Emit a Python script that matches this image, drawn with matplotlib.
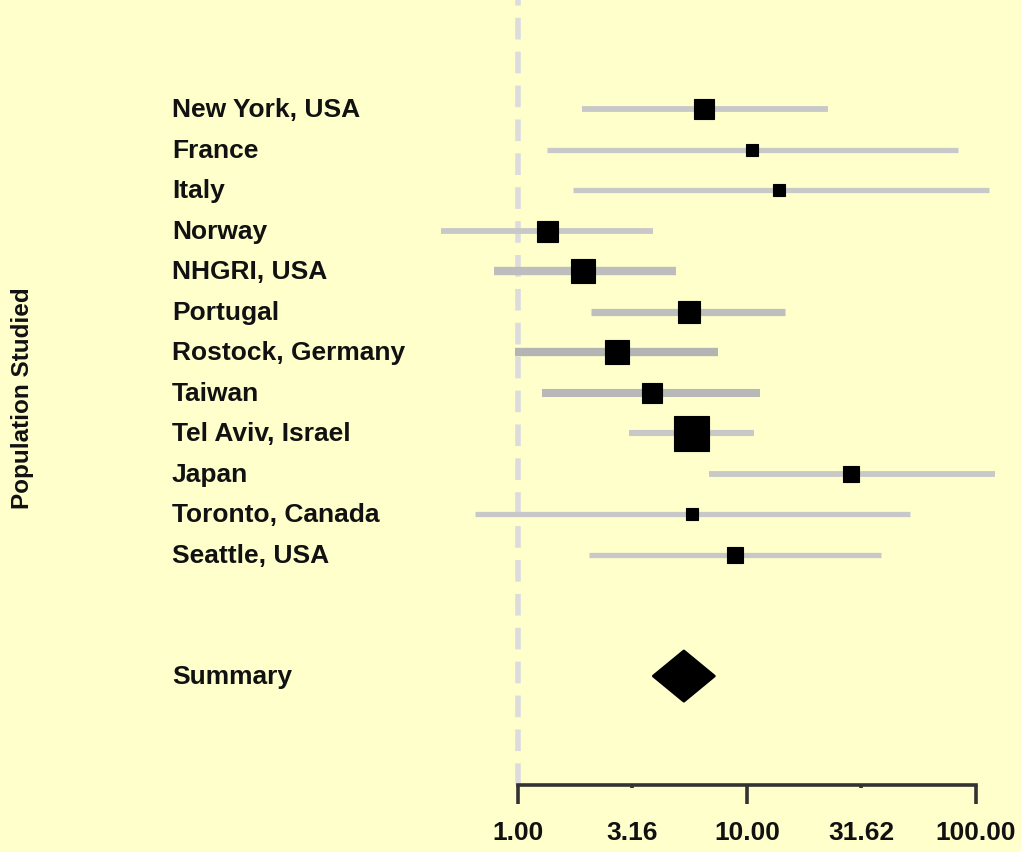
import numpy as np
import matplotlib
matplotlib.use('Agg')
import matplotlib.pyplot as plt
from matplotlib.transforms import blended_transform_factory
from matplotlib.ticker import FixedLocator, FixedFormatter

plt.rcParams['font.family'] = ['Liberation Sans', 'DejaVu Sans']
plt.rcParams['font.weight'] = 'bold'

# odds ratios with 95% CI per study population
studies = ['New York, USA', 'France', 'Italy', 'Norway', 'NHGRI, USA', 'Portugal',
           'Rostock, Germany', 'Taiwan', 'Tel Aviv, Israel', 'Japan',
           'Toronto, Canada', 'Seattle, USA']
odds = [6.5, 10.5, 13.8, 1.34, 1.92, 5.6, 2.7, 3.85, 5.7, 28.5, 5.75, 8.9]
ci_low = [1.90, 1.34, 1.74, 0.46, 0.785, 2.08, 0.97, 1.27, 3.05, 6.8, 0.65, 2.04]
ci_high = [22.6, 83.5, 114.0, 3.9, 4.9, 14.7, 7.5, 11.4, 10.7, 121.0, 51.5, 38.5]
weight = [29.5, 11.8, 11.8, 36.0, 47.0, 39.5, 47.0, 32.7, 100.0, 20.9, 9.9, 20.9]

summary_label = 'Summary'
summary_or = 5.3
summary_low = 3.9
summary_high = 7.2

tick_vals = [1.0, 3.16, 10.0, 31.62, 100.0]
tick_text = ['1.00', '3.16', '10.00', '31.62', '100.00']

bg = '#FFFFCC'
W, H = 1021, 853
fig = plt.figure(figsize=(W / 100, H / 100), dpi=100, facecolor=bg)
ax = fig.add_axes([518 / W, 1 - 786 / H, (976 - 518) / W, 786 / H])
ax.set_facecolor('none')
ax.set_xscale('log')
ax.set_xlim(1, 100)
ax.set_ylim(16.69, -2.72)

# reference line at OR = 1
ax.axvline(1, color='#DCDCDF', lw=4.0, dashes=(3.9, 2.2), clip_on=False, zorder=1)

line_w = [4.2, 3.8, 3.8, 4.2, 6.0, 5.2, 6.0, 5.8, 4.4, 4.2, 3.8, 3.8]
line_c = ['#C8C8C8', '#C8C8C8', '#C8C8C8', '#C8C8C8', '#BDBDBD', '#BEBEBE',
          '#B4B4B4', '#B8B8B8', '#C8C8C8', '#C8C8C8', '#C8C8C8', '#C8C8C8']
for i in range(len(studies)):
    ax.plot([ci_low[i], ci_high[i]], [i, i], color=line_c[i], lw=line_w[i],
            solid_capstyle='butt', clip_on=False, zorder=2)
    side = 25.2 * np.sqrt(weight[i] / 100.0)
    ax.plot(odds[i], i, marker='s', ms=side, color='black', mec='black',
            mew=0.8, clip_on=False, zorder=3)

# pooled estimate as a diamond
ys = len(studies) + 2
ax.fill([summary_low, summary_or, summary_high, summary_or],
        [ys, ys - 0.62, ys, ys + 0.62], facecolor='black', edgecolor='black',
        lw=2, joinstyle='round', clip_on=False, zorder=3)

trans = blended_transform_factory(fig.transFigure, ax.transData)
for i, name in enumerate(studies):
    ax.text(172 / W, i, name, transform=trans, ha='left', va='center',
            fontsize=19, fontweight='bold', color='#111111')
ax.text(172 / W, ys, summary_label, transform=trans, ha='left', va='center',
        fontsize=19, fontweight='bold', color='#111111')

fig.text(23 / W, 1 - 398 / H, 'Population Studied', rotation=90, ha='center',
         va='center', fontsize=17.5, fontweight='bold', color='#111111')

for s in ['top', 'left', 'right']:
    ax.spines[s].set_visible(False)
ax.spines['bottom'].set_bounds(1, 100)
ax.spines['bottom'].set_color('#333333')
ax.spines['bottom'].set_linewidth(2.6)
ax.set_yticks([])

ax.xaxis.set_major_locator(FixedLocator([tick_vals[0], tick_vals[2], tick_vals[4]]))
ax.xaxis.set_major_formatter(FixedFormatter([tick_text[0], tick_text[2], tick_text[4]]))
ax.xaxis.set_minor_locator(FixedLocator([tick_vals[1], tick_vals[3]]))
ax.xaxis.set_minor_formatter(FixedFormatter([tick_text[1], tick_text[3]]))
ax.tick_params(axis='x', which='major', length=14, width=2.6, color='#333333',
               pad=11, labelsize=19, labelcolor='#111111')
ax.tick_params(axis='x', which='minor', length=2, width=2.6, color='#333333',
               pad=23, labelsize=19, labelcolor='#111111')
for lab in ax.get_xticklabels(which='both'):
    lab.set_fontweight('bold')

fig.savefig('out.png', dpi=100, facecolor=bg)
